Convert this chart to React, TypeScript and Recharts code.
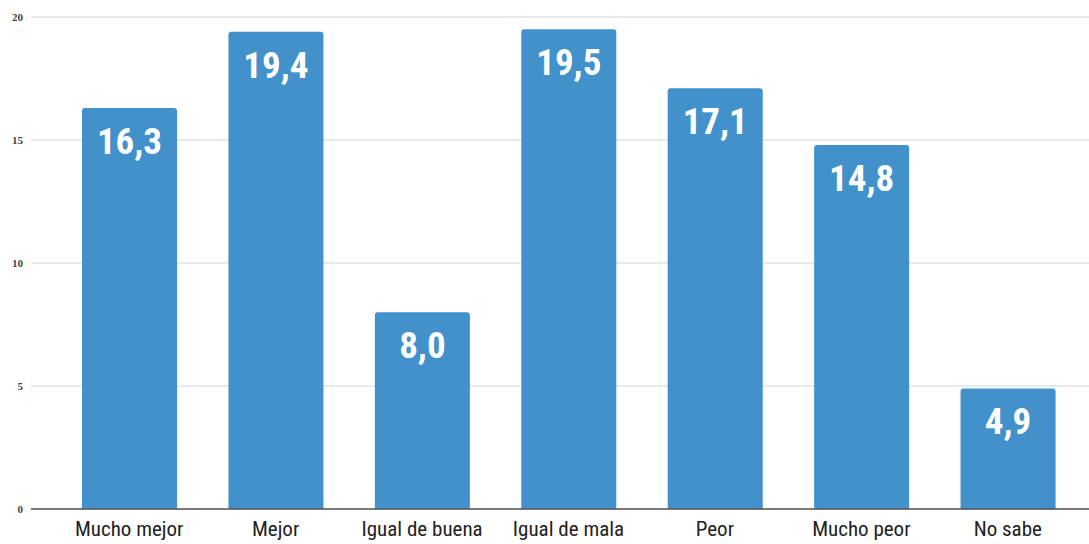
import React from 'react';
import { BarChart, Bar, XAxis, YAxis, CartesianGrid, LabelList, ReferenceLine } from 'recharts';

const categories = ['Mucho mejor', 'Mejor', 'Igual de buena', 'Igual de mala', 'Peor', 'Mucho peor', 'No sabe'];
const values = [16.3, 19.4, 8.0, 19.5, 17.1, 14.8, 4.9];
const yTicks = [0, 5, 10, 15, 20];

const narrow = '"Liberation Sans Narrow", "Roboto Condensed", "DejaVu Sans Condensed", sans-serif';

const data = categories.map((name, i) => ({ name, value: values[i] }));

const BarValue = (props: any) => {
  const { x, y, width, value } = props;
  return (
    <text
      x={x + width / 2}
      y={y + 46}
      textAnchor="middle"
      fill="#ffffff"
      fontFamily={narrow}
      fontWeight="bold"
      fontSize={37}
    >
      {Number(value).toFixed(1).replace('.', ',')}
    </text>
  );
};

export default function App() {
  return (
    <div style={{ position: 'absolute', left: 0, top: 0, background: '#fff' }}>
      <BarChart
        width={1089}
        height={544}
        data={data}
        margin={{ top: 17, right: 0, bottom: 0, left: 0 }}
      >
        <CartesianGrid vertical={false} stroke="#d4d4dc" strokeWidth={1} />
        <XAxis
          dataKey="name"
          height={35}
          axisLine={false}
          tickLine={false}
          padding={{ left: 25, right: 8 }}
          tick={{ fill: '#222', fontSize: 21, fontFamily: narrow }}
          interval={0}
          dy={4}
        />
        <YAxis
          width={31}
          domain={[0, 20]}
          ticks={yTicks}
          axisLine={false}
          tickLine={false}
          tick={{ fill: '#444', fontSize: 11, fontFamily: '"Liberation Serif", serif', fontWeight: 'bold' }}
        />
        <ReferenceLine y={0} stroke="#555" strokeWidth={1.5} />
        <Bar dataKey="value" fill="#4291ca" barSize={95} radius={[3, 3, 0, 0]} isAnimationActive={false}>
          <LabelList dataKey="value" content={BarValue} />
        </Bar>
      </BarChart>
    </div>
  );
}
